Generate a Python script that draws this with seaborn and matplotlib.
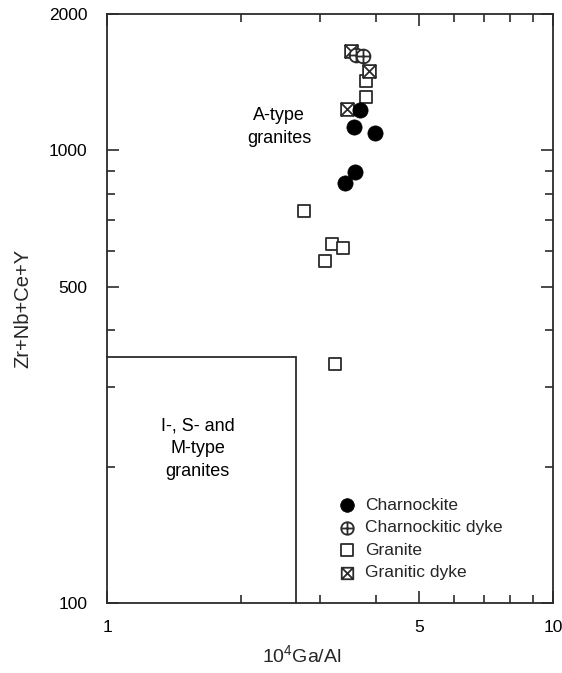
import numpy as np
import pandas as pd
import matplotlib
matplotlib.use("Agg")
import matplotlib.pyplot as plt
from matplotlib.path import Path
from matplotlib.ticker import FixedLocator, NullFormatter
import seaborn as sns

# ---------------- data ----------------
charnockite_x = [3.69, 3.58, 3.98, 3.60, 3.42]
charnockite_y = [1228, 1124, 1090, 897, 845]

charn_dyke_x = [3.62, 3.75]
charn_dyke_y = [1624, 1616]

granite_x = [3.81, 3.81, 2.77, 3.20, 3.39, 3.08, 3.25]
granite_y = [1425, 1313, 735, 620, 609, 569, 338]

granitic_dyke_x = [3.52, 3.86, 3.45]
granitic_dyke_y = [1660, 1499, 1232]

field_ga_al = 2.65   # boundary of I-, S- and M-type field
field_sum = 350

x_ticks_major = [1, 5, 10]
x_ticks_minor = [2, 3, 4, 6, 7, 8, 9]
y_ticks_major = [100, 500, 1000, 2000]
y_ticks_minor = [200, 300, 400, 600, 700, 800, 900]

# ---------------- style ----------------
sns.set_theme(style="white")
plt.rcParams["font.family"] = ["Liberation Sans", "DejaVu Sans"]
plt.rcParams["mathtext.fontset"] = "custom"
plt.rcParams["mathtext.rm"] = "Liberation Sans"
plt.rcParams["mathtext.it"] = "Liberation Sans"
ink = "#2b2b2b"

# custom markers
circ = Path.unit_circle()
plus_circle = Path(
    np.concatenate([circ.vertices, [[-1, 0], [1, 0], [0, -1], [0, 1]]]),
    np.concatenate([circ.codes, [Path.MOVETO, Path.LINETO, Path.MOVETO, Path.LINETO]]),
)
sq = [[-1, -1], [1, -1], [1, 1], [-1, 1], [-1, -1]]
x_square = Path(
    sq + [[-1, -1], [1, 1], [-1, 1], [1, -1]],
    [Path.MOVETO, Path.LINETO, Path.LINETO, Path.LINETO, Path.CLOSEPOLY,
     Path.MOVETO, Path.LINETO, Path.MOVETO, Path.LINETO],
)

fig = plt.figure(figsize=(5.62, 6.73), dpi=100)
ax = fig.add_axes([107 / 562, 1 - 603 / 673, 446 / 562, 589 / 673])
ax.set_xscale("log")
ax.set_yscale("log")
ax.set_xlim(1, 10)
ax.set_ylim(100, 2000)

# field of I-, S- and M-type granites
ax.plot([1, field_ga_al, field_ga_al], [field_sum, field_sum, 100],
        color=ink, lw=1.3, solid_joinstyle="miter", clip_on=False, zorder=2)

df_c = pd.DataFrame({"x": charnockite_x, "y": charnockite_y})
df_cd = pd.DataFrame({"x": charn_dyke_x, "y": charn_dyke_y})
df_g = pd.DataFrame({"x": granite_x, "y": granite_y})
df_gd = pd.DataFrame({"x": granitic_dyke_x, "y": granitic_dyke_y})

sns.scatterplot(data=df_g, x="x", y="y", ax=ax, marker="s", s=85,
                facecolor="white", edgecolor=ink, linewidth=1.3,
                label="Granite", zorder=3)
sns.scatterplot(data=df_gd, x="x", y="y", ax=ax, marker=x_square, s=85,
                facecolor="white", edgecolor=ink, linewidth=1.3,
                label="Granitic dyke", zorder=3)
sns.scatterplot(data=df_cd, x="x", y="y", ax=ax, marker=plus_circle, s=100,
                facecolor="white", edgecolor=ink, linewidth=1.3,
                label="Charnockitic dyke", zorder=4)
sns.scatterplot(data=df_c, x="x", y="y", ax=ax, marker="o", s=120,
                color="black", edgecolor="black", linewidth=0.5,
                label="Charnockite", zorder=4)

# text labels
ax.text(2.43, 1126, "A-type\ngranites", ha="center", va="center",
        fontsize=13, linespacing=1.45, color="black")
ax.text(1.596, 219, "I-, S- and\nM-type\ngranites", ha="center", va="center",
        fontsize=13, linespacing=1.45, color="black")

# legend
handles, labels = ax.get_legend_handles_labels()
order = ["Charnockite", "Charnockitic dyke", "Granite", "Granitic dyke"]
hmap = dict(zip(labels, handles))
leg = ax.legend([hmap[k] for k in order], order, loc="lower left",
                bbox_to_anchor=(0.499, 0.024), frameon=False, fontsize=12.5,
                handlelength=1.0, handletextpad=0.55, labelspacing=0.42,
                borderpad=0.0, markerscale=0.9)

# ticks
ax.xaxis.set_major_locator(FixedLocator(x_ticks_major))
ax.xaxis.set_minor_locator(FixedLocator(x_ticks_minor))
ax.set_xticklabels([str(v) for v in x_ticks_major])
ax.xaxis.set_minor_formatter(NullFormatter())
ax.yaxis.set_major_locator(FixedLocator(y_ticks_major))
ax.yaxis.set_minor_locator(FixedLocator(y_ticks_minor))
ax.set_yticklabels([str(v) for v in y_ticks_major])
ax.yaxis.set_minor_formatter(NullFormatter())

ax.tick_params(which="both", direction="in", top=True, right=True,
               bottom=True, left=True,
               color=ink, width=1.2, labelsize=12.5, labelcolor="black")
ax.tick_params(which="major", length=8.5, pad=12)
ax.tick_params(which="minor", length=5.5)
ax.tick_params(axis="y", which="major", pad=14)

for sp in ax.spines.values():
    sp.set_color(ink)
    sp.set_linewidth(1.3)

ax.set_xlabel(r"10$^{\mathregular{4}}$Ga/Al", fontsize=14, labelpad=10)
ax.xaxis.set_label_coords(0.437, -0.070)
ax.set_ylabel("Zr+Nb+Ce+Y", fontsize=14.5, labelpad=12)

fig.savefig("out.png", dpi=100)
